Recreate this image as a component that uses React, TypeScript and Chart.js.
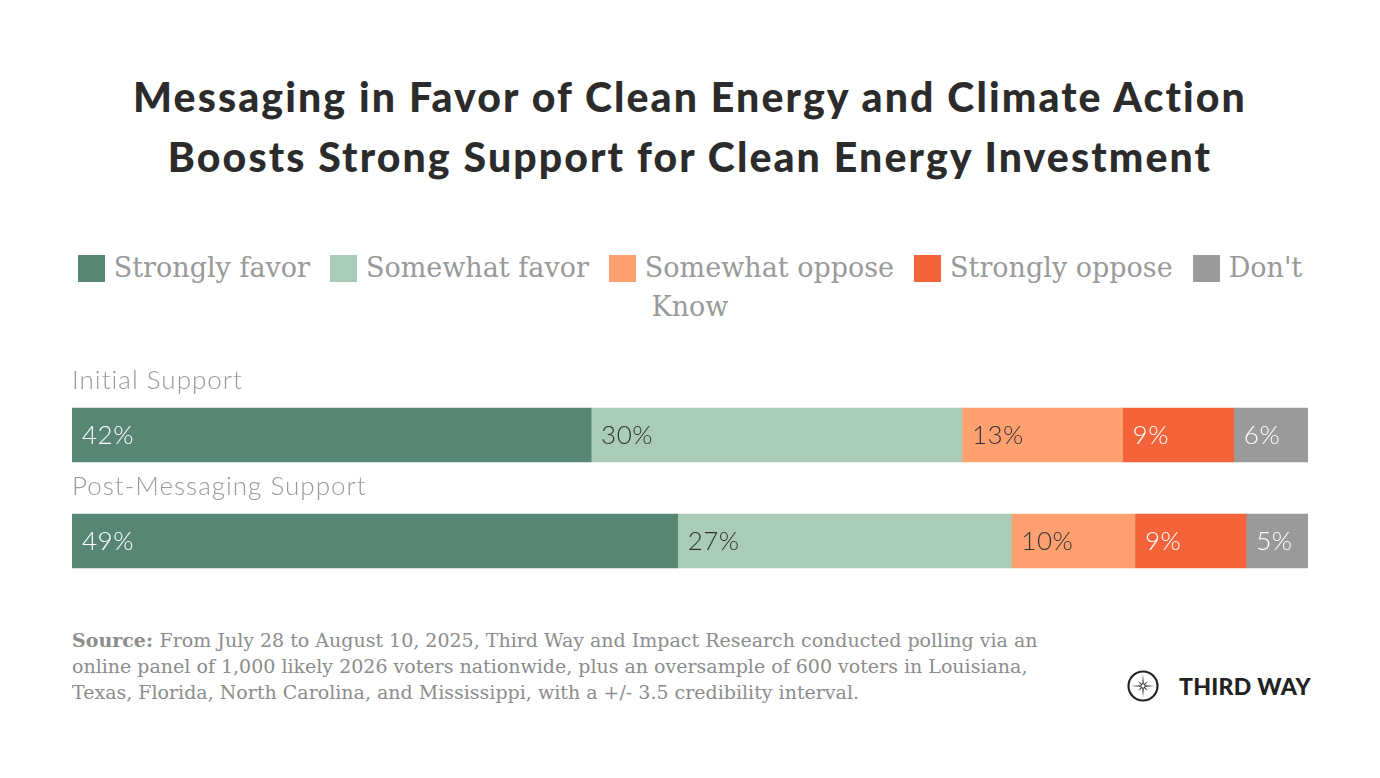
import React, { useEffect, useRef } from "react";
import { Chart, registerables } from "chart.js";

Chart.register(...registerables);

const titleLines = [
  "Messaging in Favor of Clean Energy and Climate Action",
  "Boosts Strong Support for Clean Energy Investment",
];
const categories = ["Initial Support", "Post-Messaging Support"];
const seriesNames = ["Strongly favor", "Somewhat favor", "Somewhat oppose", "Strongly oppose", "Don't Know"];
const stronglyFavor = [42, 49];
const somewhatFavor = [30, 27];
const somewhatOppose = [13, 10];
const stronglyOppose = [9, 9];
const dontKnow = [6, 5];
const seriesColors = ["#578774", "#a8ccb7", "#ffa071", "#f5633a", "#9a9a9a"];
const labelColors = ["#ffffff", "#333333", "#333333", "#ffffff", "#ffffff"];
const sourceLines = [
  "From July 28 to August 10, 2025, Third Way and Impact Research conducted polling via an",
  "online panel of 1,000 likely 2026 voters nationwide, plus an oversample of 600 voters in Louisiana,",
  "Texas, Florida, North Carolina, and Mississippi, with a +/- 3.5 credibility interval.",
];

const seriesValues = [stronglyFavor, somewhatFavor, somewhatOppose, stronglyOppose, dontKnow];

const SANS = "Lato, 'Noto Sans', sans-serif";
const SERIF = "'DejaVu Serif', 'Liberation Serif', serif";

const labelPlugin = {
  id: "segLabels",
  afterDatasetsDraw(chart: any) {
    const ctx = chart.ctx;
    ctx.save();
    ctx.textBaseline = "middle";
    ctx.textAlign = "left";
    chart.data.datasets.forEach((ds: any, di: number) => {
      const meta = chart.getDatasetMeta(di);
      meta.data.forEach((el: any, i: number) => {
        const v = ds.data[i];
        const p = el.getProps(["x", "y", "base"], true);
        ctx.fillStyle = labelColors[di];
        ctx.font = `300 26px ${SANS}`;
        try { (ctx as any).letterSpacing = "0.5px"; } catch (e) {}
        ctx.fillText(v + "%", Math.min(p.x, p.base) + 10, p.y + 1);
      });
    });
    const yScale = chart.scales.y;
    categories.forEach((c, i) => {
      const yc = yScale.getPixelForValue(i);
      ctx.fillStyle = "#9a9a9a";
      ctx.font = `300 26px ${SANS}`;
      try { (ctx as any).letterSpacing = "1px"; } catch (e) {}
      ctx.fillText(c, chart.chartArea.left, yc - 54);
    });
    ctx.restore();
  },
};

function BarChart() {
  const ref = useRef<HTMLCanvasElement | null>(null);
  useEffect(() => {
    if (!ref.current) return;
    const chart = new Chart(ref.current, {
      type: "bar",
      data: {
        labels: categories,
        datasets: seriesNames.map((name, i) => ({
          label: name,
          data: seriesValues[i],
          backgroundColor: seriesColors[i],
          borderWidth: 0,
          barThickness: 54,
        })),
      },
      options: {
        indexAxis: "y",
        responsive: true,
        maintainAspectRatio: false,
        animation: false,
        layout: { padding: { left: 72, right: 72, top: 42, bottom: 16 } },
        scales: {
          x: { stacked: true, min: 0, max: 100, display: false },
          y: { stacked: true, display: false },
        },
        plugins: { legend: { display: false }, tooltip: { enabled: false } },
      },
      plugins: [labelPlugin],
    } as any);
    return () => chart.destroy();
  }, []);
  return (
    <div style={{ position: "absolute", left: 0, top: 340, width: 1380, height: 270 }}>
      <canvas ref={ref} />
    </div>
  );
}

function Logo() {
  const pts: string[] = [];
  const cx = 15, cy = 15;
  for (let k = 0; k < 16; k++) {
    const ang = (k * Math.PI) / 8 - Math.PI / 2;
    let r: number;
    if (k % 4 === 0) r = 11;
    else if (k % 2 === 0) r = 6.5;
    else r = 1.8;
    pts.push(`${(cx + r * Math.cos(ang)).toFixed(2)},${(cy + r * Math.sin(ang)).toFixed(2)}`);
  }
  return (
    <div style={{ position: "absolute", left: 1127, top: 670, display: "flex", alignItems: "center" }}>
      <svg width="32" height="32" viewBox="0 0 30 30">
        <circle cx="15" cy="15" r="13.6" fill="none" stroke="#222" strokeWidth="2" />
        <polygon points={pts.join(" ")} fill="#222" />
        <circle cx="15" cy="15" r="1.6" fill="#fff" />
      </svg>
      <span style={{ marginLeft: 20, fontFamily: SANS, fontWeight: 900, fontSize: 23, color: "#222", letterSpacing: 0.3 }}>
        THIRD WAY
      </span>
    </div>
  );
}

export default function App() {
  useEffect(() => {
    document.body.style.margin = "0";
  }, []);
  return (
    <div style={{ position: "relative", width: 1380, height: 778, background: "#fff", overflow: "hidden" }}>
      <div
        style={{
          position: "absolute",
          top: 67,
          left: 0,
          width: 1380,
          textAlign: "center",
          fontFamily: SANS,
          fontWeight: 900,
          fontSize: 41,
          letterSpacing: 2.1,
          lineHeight: "60px",
          color: "#2b2b2b",
        }}
      >
        {titleLines.map((l, i) => (
          <div key={i}>{l}</div>
        ))}
      </div>
      <div
        style={{
          position: "absolute",
          top: 248,
          left: 72,
          width: 1236,
          textAlign: "center",
          fontFamily: SERIF,
          fontSize: 27,
          lineHeight: "39px",
          color: "#999",
        }}
      >
        {seriesNames.map((n, i) => (
          <span key={i} style={{ marginRight: i < seriesNames.length - 1 ? 20 : 0 }}>
            <span
              style={{
                display: "inline-block",
                width: 27,
                height: 27,
                background: seriesColors[i],
                verticalAlign: "-5px",
                marginRight: 9,
              }}
            />
            {n}
          </span>
        ))}
      </div>
      <BarChart />
      <div
        style={{
          position: "absolute",
          top: 627,
          left: 72,
          fontFamily: SERIF,
          fontSize: 19,
          lineHeight: "26px",
          color: "#8c8c8c",
          whiteSpace: "nowrap",
        }}
      >
        {sourceLines.map((l, i) => (
          <div key={i}>
            {i === 0 && <b>Source: </b>}
            {l}
          </div>
        ))}
      </div>
      <Logo />
    </div>
  );
}
